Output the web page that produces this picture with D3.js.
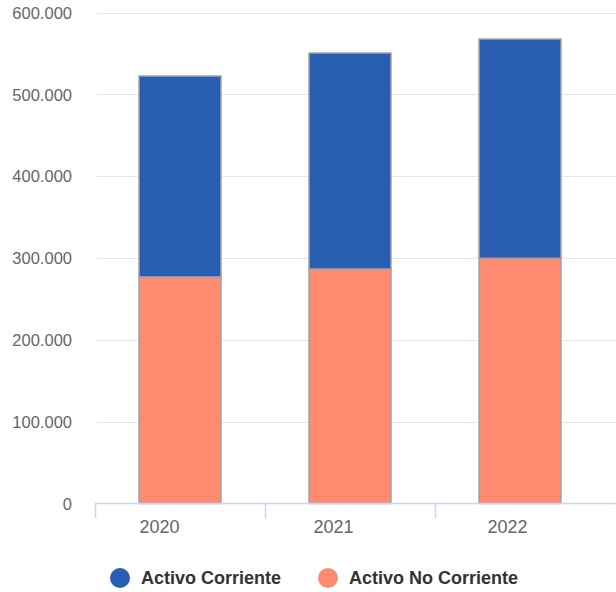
<!DOCTYPE html>
<html><head><meta charset="utf-8">
<script src="https://cdn.jsdelivr.net/npm/d3@7/dist/d3.min.js"></script>
<style>body{margin:0;background:#fff}svg{display:block}</style>
</head><body>
<svg id="c" width="616" height="592"></svg>
<script>
const years = ["2020","2021","2022"];
const activoNoCorriente = [277000, 286700, 299800];
const activoCorriente = [245600, 264000, 268000];
const yTicks = [0,100000,200000,300000,400000,500000,600000];
const seriesNames = ["Activo Corriente","Activo No Corriente"];
const colors = ["#285db1","#fe8a6f"];

const svg = d3.select("#c");
const pLeft = 95, pRight = 605, pTop = 12.7, pBottom = 503.5;
const x = d3.scaleBand().domain(years).range([pLeft,pRight]).paddingInner(0).paddingOuter(0);
const xLabel = d3.scalePoint().domain(years).range([159.5,507.5]);
const y = d3.scaleLinear().domain([0,600000]).range([pBottom,pTop]);
const fmt = v => v===0 ? "0" : d3.format(",.0f")(v/1000).replace(/,/g,".") + ".000";
const FONT = "Liberation Sans, Arial, sans-serif";

// gridlines
svg.append("g").selectAll("line").data(yTicks.filter(d=>d>0)).join("line")
  .attr("x1",pLeft+2).attr("x2",616).attr("y1",d=>Math.round(y(d))+0.5).attr("y2",d=>Math.round(y(d))+0.5)
  .attr("stroke","#e6e6e6").attr("stroke-width",1);

// y labels
svg.append("g").selectAll("text").data(yTicks).join("text")
  .attr("x",72).attr("y",d=>y(d)+6).attr("text-anchor","end")
  .attr("font-family",FONT).attr("font-size",16.5).attr("fill","#666")
  .text(fmt);

// stacked bars
const bw = 82;
const stack = years.map((yr,i)=>({yr, nc:activoNoCorriente[i], c:activoCorriente[i]}));
const g = svg.append("g");
g.selectAll("rect.nc").data(stack).join("rect").attr("class","nc")
  .attr("x",d=>x(d.yr)+x.bandwidth()/2-bw/2).attr("width",bw)
  .attr("y",d=>y(d.nc)).attr("height",d=>y(0)-y(d.nc))
  .attr("fill",colors[1]).attr("stroke","#a3a3a3").attr("stroke-width",1.5);
g.selectAll("rect.c").data(stack).join("rect").attr("class","c")
  .attr("x",d=>x(d.yr)+x.bandwidth()/2-bw/2).attr("width",bw)
  .attr("y",d=>y(d.nc+d.c)).attr("height",d=>y(d.nc)-y(d.nc+d.c))
  .attr("fill",colors[0]).attr("stroke","#a3a3a3").attr("stroke-width",1.5);

// x axis
const ax = svg.append("g");
ax.append("line").attr("x1",pLeft).attr("x2",616).attr("y1",503.5).attr("y2",503.5)
  .attr("stroke","#ccd6eb").attr("stroke-width",1.5);
const tickXs = years.map(d=>x(d));
ax.selectAll("line.t").data(tickXs).join("line").attr("class","t")
  .attr("x1",d=>d+0.5).attr("x2",d=>d+0.5).attr("y1",503.5).attr("y2",518)
  .attr("stroke","#ccd6eb").attr("stroke-width",1.5);
ax.selectAll("text").data(years).join("text")
  .attr("x",d=>xLabel(d)).attr("y",533).attr("text-anchor","middle")
  .attr("font-family",FONT).attr("font-size",18).attr("fill","#666")
  .text(d=>d);

// legend
const lg = svg.append("g");
const legX = [120, 328];
seriesNames.forEach((n,i)=>{
  lg.append("circle").attr("cx",legX[i]).attr("cy",578).attr("r",10).attr("fill",colors[i]);
  lg.append("text").attr("x",legX[i]+21).attr("y",584)
    .attr("font-family",FONT).attr("font-size",18).attr("font-weight","bold").attr("fill","#333")
    .text(n);
});
</script>
</body></html>
